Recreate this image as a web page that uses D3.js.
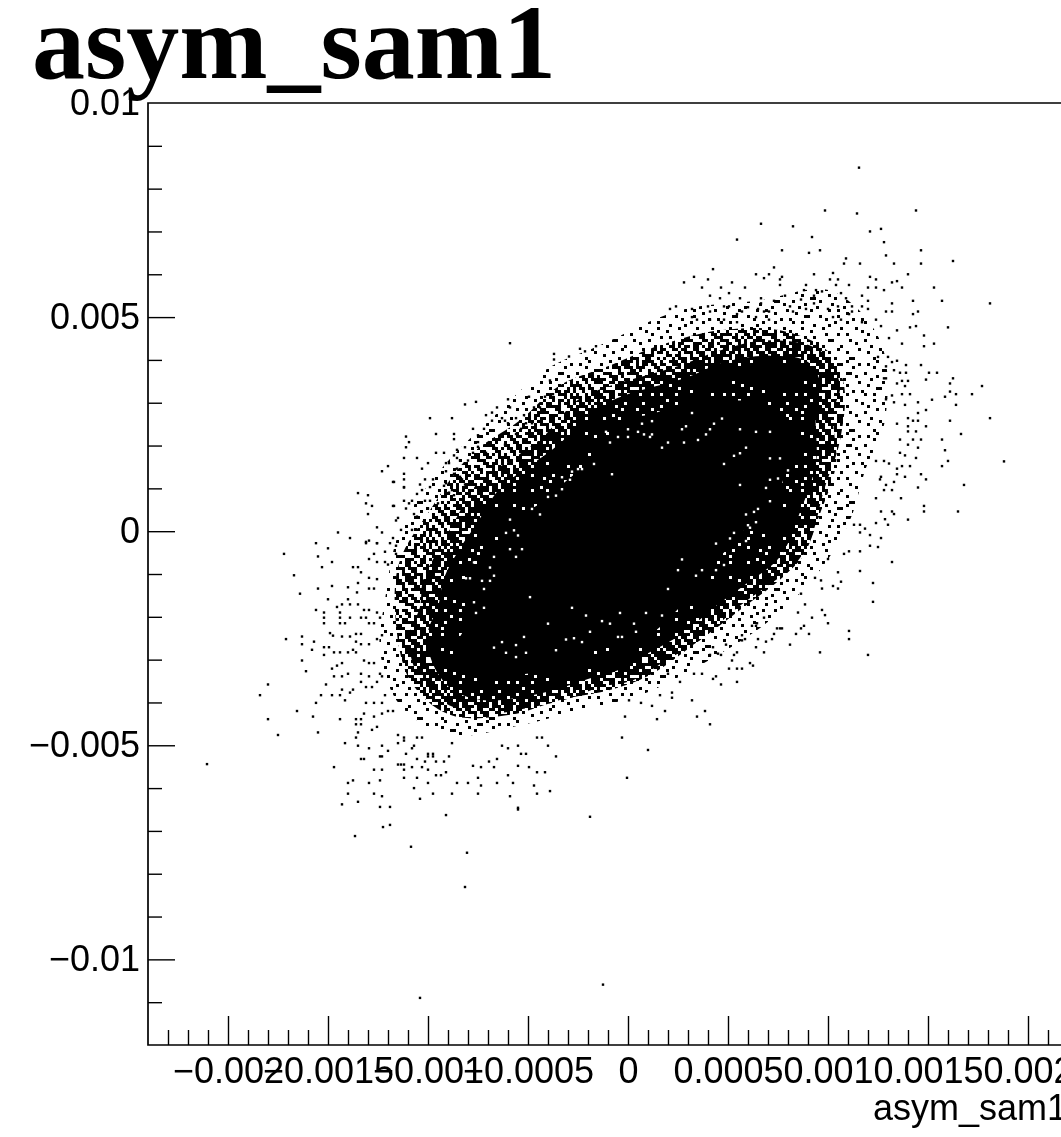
<!DOCTYPE html>
<html><head><meta charset="utf-8">
<style>html,body{margin:0;padding:0;background:#fff;overflow:hidden}svg{display:block;filter:blur(.45px)}
text{font-family:"Liberation Sans",Arial,sans-serif;fill:#000}</style>
<script src="https://cdnjs.cloudflare.com/ajax/libs/d3/7.8.5/d3.min.js"></script></head><body>
<script>
// values are in units of 1e-5
const titleText="asym_sam1";
const xAxisTitle="asym_sam1";
const xMajor=[-200,-150,-100,-50,0,50,100,150,200];
const xMajorLabels=["\u22120.002","\u22120.0015","\u22120.001","\u22120.0005","0","0.0005","0.001","0.0015","0.002"];
const yMajor=[1000,500,0,-500,-1000];
const yMajorLabels=["0.01","0.005","0","\u22120.005","\u22120.01"];
const xMinor=d3.range(-230,240,10).filter(v=>!xMajor.includes(v));
const yMinor=d3.range(-1100,1000,100).filter(v=>!yMajor.includes(v));

// density contours of the point cloud [x,y]
const coreOutline=[[-76.5,-130],[-71,-60],[-64,-21],[-56.5,33],[-44,64],[-30.5,119],[-20.5,157],[-14,196],[-0.5,259],[12.5,274],[27.5,298],[46,305],[66,298],[77.5,259],[81,204],[77.5,119],[72.5,56],[63,41],[56,-14],[46,-60],[39,-115],[32.5,-146],[26,-177],[16,-224],[2.5,-263],[-14,-270],[-24,-294],[-35.5,-317],[-50.5,-333],[-65.5,-333],[-77.5,-302],[-85.5,-270],[-80.5,-216],[-79,-177]];
const denseOutline=[[-95,-177],[-92,-110],[-84,-40],[-76,15],[-64,100],[-50,150],[-34,205],[-18,280],[-3,315],[30,360],[48,395],[71,410],[90,395],[97,330],[94,270],[94,160],[86,45],[76,-60],[60,-120],[44,-175],[27,-240],[10,-285],[-5,-325],[-20,-345],[-33,-365],[-50,-385],[-72,-395],[-88,-370],[-98,-305],[-100,-235]];
const thickOutline=[[-104,-177],[-102.5,-115],[-94,-37],[-87.5,17],[-74,119],[-59,165],[-42.5,220],[-25.5,305],[-11,336],[26,387],[46,422],[71,446],[96,422],[106,341],[102.5,275],[104,157],[96,41],[86,-68],[69,-130],[53,-185],[36,-255],[19,-302],[2.5,-348],[-14,-364],[-27,-387],[-47,-410],[-72,-426],[-94,-395],[-107,-317],[-109,-239]];
const mediumOutline=[[-116.5,-184],[-114,-68],[-99,49],[-79,177],[-54,259],[-34,341],[-9,387],[16,434],[46,469],[76,469],[100,420],[108,341],[106,212],[98,96],[91,-21],[81,-91],[56,-184],[36,-254],[11,-336],[-9,-371],[-34,-394],[-59,-429],[-89,-429],[-109,-348]];
const sparseOutline=[[-124,-278],[-121.5,-161],[-114,2],[-94,142],[-64,282],[-41.5,376],[-14,434],[26,516],[66,539],[101,562],[126,446],[128.5,259],[118.5,142],[111,26],[96,-91],[71,-208],[36,-313],[6,-383],[-24,-418],[-54,-453],[-89,-476],[-114,-406]];

const tileDense=["111011111101111101111011","110111011111011011111101","111111101101111110110111","011011111110110111111011","111110110111111011011111","101111111011011111110110","111011011111110101111111","111101111010111111011101","011111101111101110111111","110110111101111011111010","111111011111010111101111","101101111011111111011011","111011110111011011111110","011111011111110111010111","110111111010111101111101","111101101111101111111011","101111110111111010110111","111011011101111111101111","111110111111011011011101","011011111011110111111110","110111010111111101101111","111101111111011111011011","101111101101111010111111","111010111110111111110101"];
const tileMedium=["110010011100100111001011","011011000110110001001001","001000110010011011100110","100110011000001000110100","110011000111001101011000","011001010001100100001101","001101110100110011000110","100100011001001001101010","110010000110011100110011","011011001100000111000101","001001100111000001100100","100100101001101100011010","110110001100100110001011","010011010011010010110001","001000111001101100101100","101101001100001011000110","100011000110110001100011","011001101001011000110100","001100100011000111001001","110010011000110100101100","011011001101100010011010","000110100010011011000110","110000110110001001100011","100101001011100110110001"];
const tileSparse=["000010000001000000100000","010000001000000110000010","000100000000100000001000","000000110000001000000000","100000000100000000110000","000010000000010000000100","001000001000000001000000","000000100000100100000010","010000000000000000100000","000011000100000100000000","000000000001000000001001","100100000000001000100000","000000010000100000000000","000100000010000010000100","000000100000000000000001","010000000001000100100000","000010010000000000000000","100000000000110000010000","000000001000000000000100","001000000010000010000000","000001000000000100000010","010000100000100000100000","000000000100000000000000","000100000000001000011000"];

const ptsLowerLeft=[-135,89,-130,84,-131,65,-128,59,-130,40,-117,59,-117,115,-112,102,-145,-3,-139,-16,-156,-28,-150,-40,-172,-53,-155,-59,-148,-72,-153,-84,-167,-103,-148,-128,-155,-134,-164,-146,-150,-159,-156,-184,-152,-190,-152,-202,-152,-215,-171,-252,-163,-246,-163,-264,-157,-258,-158,-277,-152,-271,-152,-289,-163,-302,-161,-327,-180,-358,-184,-383,-153.5,-383,-148,-383,-151,-358,-156,-401,-165.5,-420,-157.5,-433,-180,-439,-144,-439,-175,-476,-155,-470,-141.5,-495,-135,-501,-129.5,-507,-123,-501,-147,-551,-127,-557,-123,-557,-140,-588,-137.5,-582,-129.5,-588,-124,-582,-140,-613,-127,-613,-123,-619,-143,-638,-135,-632,-124,-644,-119,-644,-91,-663,-55,-650,-107,-600,-104,-625,-97.5,-613,-88,-613,-100,-588,-85.5,-588,-80,-588,-75,-576,-73.5,-594,-75,-613,-59,-619,-57.5,-588,-65.5,-588,-47,-594,-45.5,-613,-39,-607,-45.5,-563,-41.5,-563,-60,-570,-55,-548,-49.5,-551,-67,-551,-112,-576,-105.5,-576,-112,-557,-108,-551,-115,-545,
-131,-25,-125.5,-28,-129.5,-65,-127,-53,-121.5,-48,-116,-53,-125.5,-72,-135,-84,-137.5,-84,-133.5,-96,-121.5,-72,-120,-78,-129.5,-109,-125.5,-112,-135,-121,-140,-131,-129.5,-134,-135.5,-143,-127,-134,-140,-159,-139,-171,-143,-171,-145.5,-177,-135,-171,-132,-184,-129.5,-184,-144,-190,-144,-202,-141.5,-215,-144,-215,-139,-202,-133.5,-202,-131,-202,-127,-215,-129.5,-215,-124,-202,-125.5,-190,-149,-238,-147.5,-244,-143,-246,-139,-246,-136,-240,-133.5,-240,-136,-258,-133.5,-264,-129.5,-264,-125.5,-252,-123,-243,-149.5,-271,-147,-283,-144,-283,-140,-283,-137.5,-277,-136,-283,-132,-302,-129.5,-308,-127,-308,-143,-308,-145.5,-314,-148,-321,-147,-339,-143,-339,-140,-333,-133.5,-333,-129.5,-339,-124,-333,-125.5,-352,-123,-339,-143,-370,-137.5,-370,-139,-377,-144,-383,-141.5,-395,-133.5,-352,-131,-364,-128,-364,-131,-401,-127,-401,-123,-401,-121.5,-383,-132,-426,-127,-433,-123,-426,-120,-420,-117.5,-420,-136,-439,-133.5,-439,-136,-451,-133.5,-451,-128,-464,-125.5,-457,-115,-476,-112,-482,-112,-489,-105.5,-482,-103,-482,-135,-470,-136,-482,-115,-495,-133.5,-532,-132,-532,-120,-513,-124,-526,-123,-526,-111,-520,-108,-507,-107,-501,-100,-520,-97.5,-520,-100,-526,-97.5,-526,-105.5,-532,-101.5,-538,-103,-551,-100,-557,-96,-538,-92,-538,-96,-570,-93.5,-570,-91,-563,-113.5,-545,-112,-545,-88,-495,-89.5,-526,-77.5,-548,-73.5,-551,-69.5,-538,-65.5,-532,-63,-501,-60,-507,-55,-501,-53.5,-520,-51,-520,-40,-501,-36,-526,-45.5,-482,-43,-482];
const ptsUpperRight=[98.5,749,114.5,742,144,749,66.5,718,82.5,712,121,700,126.5,706,54.5,681,92,687,128,675,77,656,90.5,650,96,656,146.5,656,129,644,162.5,631,109,637,108,625,116,625,133,625,146.5,625,42.5,612,73,616,64,600,70.5,600,68,591,77,594,76,588,93,600,102.5,603,140,600,33,594,28,581,40,588,52,581,76,575,101,588,105,588,104,575,110.5,575,121,594,124,588,134.5,584,132,581,37,569,46.5,569,58.5,569,50.5,556,89,575,88,563,94,563,97,560,120,569,124,569,128,563,137,569,153,569,41,550,56,544,66.5,544,78.5,550,106.5,556,109,544,117,550,157,538,142.5,538,181,532,132,532,120,538,46,544,73,538,86.5,541,93,550,21,519,24,525,32,519,40,525,48,525,50.5,525,41,513,32,500,34.5,494,41,494,57,513,60,523,65,519,68,513,70.5,513,66.5,532,54.5,507,64,500,70.5,494,48,494,46.5,488,54.5,488,81,525,82.5,513,89,519,93,532,100,519,105,525,112,525,112,513,117,525,120,519,110.5,507,102.5,500,106.5,494,117,488,124,494,129,513,132,513,142.5,507,145,513,126.5,479,141,476,144,479,160,476,134.5,469,148,457,153,438,148,432,137,438,130.5,451,162.5,357,161,345,177,339,172,320,158.5,314,161,326,164,320,164,295,161,258,181,264,166.5,227,157,214,158.5,189,160,164,157,152,168,108,165,46,148,59,148,46,154.5,370,150.5,370,146.5,388,149,354,145,301,152,307,149,283,
125,407,130,407,134.5,398,132,395,129,385,139,388,133,376,136,370,139,370,128,357,129,357,134.5,345,137,351,140,351,138.5,339,137,320,141,320,132,317,129,308,133,301,138.5,295,145,276,140,264,145,258,142.5,258,134.5,251,149,245,140,245,140,233,144,233,136,214,140,202,142.5,214,146.5,214,136,183,138.5,177,145,195,144,171,137,152,141,152,134.5,146,146.5,133,149,121,134.5,133,138.5,127,133,115,145,102,129,108,128,96,132,96,124,77,136.5,77,126.5,46,132,46,133,40,140,27,124,164,128,164,130.5,158,126.5,127,126,121,188,163];
const ptsUpperLeft=[-59,439,-37,414,-37,401,-29.5,408,-24,426,-16,432,-21.5,420,-39,352,-49.5,314,-60,308,-76,302,-81.5,296,-37.5,320,-41.5,314,-59,289,-65.5,289,-68,277,-71,271,-99,264,-88,264,-68,258,-77.5,239,-72,239,-96,227,-87,227,-87,215,-111,221,-109.5,208,-111,196,-75,224,-75,208,-81.5,196,-85.5,190,-96,183,-92,183,-112,171,-105.5,171,-100,159,-120,152,-123,140,-103,146,-112,134,-112,121,-117.5,115,-112,103,-117.5,59,-112,71,-109.5,65,-111,53,-107,40,-104,109,-99,103,-101.5,121,-97.5,121,-103,96,-105.5,87,-99,71,-101.5,71,-115,31,-116,25,-125.5,9,-123,-3,-113.5,3,-108,3,-131,-28,-129.5,-22,-125.5,-28,-119,-28,-116,-34,-117.5,-16,-91,159,-89.5,159,-85.5,171,-87,177,-84,165,-80,165,-77.5,183,-91,140,-85.5,146,-87,134,-91,112,-92,106,-83,121,-81.5,109,-84,127,-75,197,-67,196,-71,183,-61.5,202,-59,221,-56,227,-53.5,239,-51,252,-48,252,-63,264,-61.5,258,-60,252,-56,264,-52,271,-47,289,-44,289,-88,96,-89.5,90,-87,84,-108,71,-105.5,34,-95,65,-100,53];
const ptsLowerRight=[132,-72,122.5,-121,122.5,-165,116,-93,106.5,-118,105,-96,105,-134,102.5,-128,110.5,-233,110.5,-252,120,-289,96,-283,100,-215,98.5,-196,97,-184,90.5,-240,84,-240,92,-202,86.5,-227,88,-221,81,-265,76,-227,74.5,-227,77,-227,68,-283,64,-271,69,-258,72,-252,73,-240,65,-252,85,-190,88.5,-171,86.5,-146,68,-202,64.5,-215,50.5,-321,54.5,-321,57,-321,61,-308,62.5,-314,52,-302,54.5,-283,53,-289,64,-221,62,-221,57,-243,57,-255,58.5,-252,54.5,-352,46.5,-358,42.5,-345,44,-339,33,-333,37,-333,32,-395,38.5,-420,34.5,-433,18.5,-420,14.5,-439,41,-451,-1.5,-433,-3,-482,12,-408,6.5,-401,0.5,-395,26,-352,22,-377,22,-389,16,-383,20,-333,46.5,-289,49,-265,42.5,-271,41,-289,45,-286,126.5,-16,125,-37,121,-34,116,-47,118.5,6,121,-9,116,-3,116,15,113,15,110.5,-47,108,-53,124,19,128.5,28,130,15,100,-65,97,-134,93.5,-109,96.5,-115];
const ptsFar=[115.5,849,-104,-1090,-12.5,-1059,-81.5,-831,-80.5,-751,-108.5,-737,-136.5,-712,-122.5,-691,-119,-686,-19,-667,-55,-646,-0.5,-576,10,-511,-210.5,-544];
const speckles=[-8,133,48,157,56,108,59,195,56,182,53,176,17,195,20,207,28,207,35,213,39,226,41,238,43,251,27,238,29,245,32,276,47,263,56,238,64,232,71,232,44,-29,27,-66,25,-91,20,-135,37,-91,34,-104,44,-91,48,-79,-49,-154,-28,-179,-21,-197,-4,-191,9,-191,17,-197,-13,-210,-9,-216,3,-216,4,-235,-19,-235,-40,-216,-52,-247,-31,-253,-27,-250,-23,-259,-5,-247,-3,-247,-36,-278,-51,-284,-56,-266,-56,-294,-63,-259,-67,-272,-61,-284,-67,-60,-56,-60,-59,-42,-53,-42,-55,-10,-61,-4,-77,-73,-69,-85,-67,-104,-73,-116,-69,-116,-72,-135,-81,-110,-79,-110,-77,-166,-72,-179,-76,-191,-48,52,-44,39,-59,27,-57,2,-40,80,-36,83,-33,98,-29,120,-33,126,-28,139,-23,145,-25,145,-17,157,-9,207,-5,220,0,220,5,232,8,226,11,220,12,226,7,251,12,257,0,238,-11,232,69,101,71,120,75,123,71,70,71,170,76,170,80,142,59,39,63,45,65,52,60,14,64,21,61,8,53,-4,51,-17,59,-23];

const W=1061,H=1137;
const svg=d3.select("body").append("svg").attr("width",W).attr("height",H);
const x=d3.scaleLinear().domain([-240,240]).range([148,1108]);
const y=d3.scaleLinear().domain([-1200,1000]).range([1045,103]);
const pairs=a=>d3.range(0,a.length,2).map(i=>[a[i],a[i+1]]);
const poly=d3.line().x(d=>x(d[0])).y(d=>y(d[1])).curve(d3.curveCatmullRomClosed);
const cell=3;
const defs=svg.append("defs");
function tile(id,rows,dx,dy){
  const p=defs.append("pattern").attr("id",id).attr("patternUnits","userSpaceOnUse")
    .attr("width",cell*rows[0].length).attr("height",cell*rows.length)
    .attr("patternTransform",`translate(${dx*cell},${dy*cell})`);
  rows.forEach((r,j)=>[...r].forEach((c,i)=>{if(c==="1")p.append("rect").attr("x",i*cell).attr("y",j*cell).attr("width",cell).attr("height",cell).attr("fill","#000");}));
}
tile("tS",tileSparse,0,0);tile("tM",tileMedium,0,0);tile("tT",tileMedium,7,11);tile("tD",tileDense,0,0);

svg.append("text").attr("x",32).attr("y",78).attr("font-size",106).style("font-family","'Liberation Serif',serif").attr("font-weight","bold").text(titleText);

const plot=svg.append("g");
plot.append("path").attr("d",poly(sparseOutline)).attr("fill","url(#tS)");
plot.append("path").attr("d",poly(mediumOutline)).attr("fill","url(#tM)");
plot.append("path").attr("d",poly(thickOutline)).attr("fill","url(#tT)");
plot.append("path").attr("d",poly(denseOutline)).attr("fill","url(#tD)");
plot.append("path").attr("d",poly(coreOutline)).attr("fill","#000");
const black=[ptsLowerLeft,ptsUpperRight,ptsUpperLeft,ptsLowerRight,ptsFar].flatMap(pairs);
plot.append("g").selectAll("rect").data(black).join("rect").attr("x",d=>x(d[0])-1.2).attr("y",d=>y(d[1])-1.2).attr("width",2.4).attr("height",2.4).attr("fill","#000");
plot.append("g").selectAll("rect").data(pairs(speckles)).join("rect").attr("x",d=>x(d[0])-1.2).attr("y",d=>y(d[1])-1.2).attr("width",2.4).attr("height",2.4).attr("fill","#fff");

function style(g){g.selectAll("path.domain").remove();g.selectAll("line").attr("stroke","#000").attr("stroke-width",1.4);g.selectAll("text").attr("font-size",36).style("font-family","'Liberation Sans',sans-serif");}
const gx=svg.append("g").attr("transform","translate(0,1045)");
gx.append("g").call(d3.axisBottom(x).tickValues(xMinor).tickSizeInner(-15).tickSizeOuter(0).tickFormat("")).call(style);
gx.append("g").call(d3.axisBottom(x).tickValues(xMajor).tickSizeInner(-29).tickSizeOuter(0).tickPadding(12.4).tickFormat((d,i)=>xMajorLabels[i])).call(style);
const gy=svg.append("g").attr("transform","translate(148,0)");
gy.append("g").call(d3.axisLeft(y).tickValues(yMinor).tickSizeInner(-14).tickSizeOuter(0).tickFormat("")).call(style);
gy.append("g").call(d3.axisLeft(y).tickValues(yMajor).tickSizeInner(-27).tickSizeOuter(0).tickPadding(8).tickFormat((d,i)=>yMajorLabels[i])).call(style);
gy.selectAll(".tick").filter(d=>d===1000).select("line").remove();

svg.append("path").attr("d",`M${x(240)},${y(1000)}H${x(-240)}V${y(-1200)}H${x(240)}`).attr("fill","none").attr("stroke","#000").attr("stroke-width",1.7);
svg.append("text").attr("x",873).attr("y",1120).attr("font-size",36).text(xAxisTitle);
</script></body></html>
